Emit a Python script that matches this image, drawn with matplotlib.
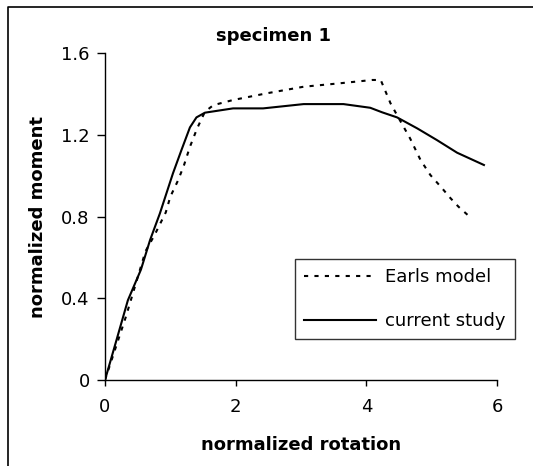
import matplotlib
matplotlib.use("Agg")
import matplotlib.pyplot as plt
from matplotlib.lines import Line2D

# ---- data ----
earls_x = [0, 0.32, 0.62, 0.76, 0.93, 1.0, 1.12, 1.21, 1.30, 1.41, 1.53, 1.66, 1.96,
           2.48, 3.04, 3.57, 4.09, 4.22, 4.37, 4.47, 4.67, 4.83, 4.98, 5.16, 5.29, 5.41, 5.56]
earls_y = [0, 0.31, 0.63, 0.71, 0.82, 0.897, 0.978, 1.052, 1.141, 1.231, 1.313, 1.345, 1.37,
           1.403, 1.435, 1.451, 1.468, 1.468, 1.354, 1.296, 1.182, 1.076, 1.003, 0.938, 0.889, 0.848, 0.805]

study_x = [0, 0.18, 0.35, 0.55, 0.69, 0.84, 1.04, 1.17, 1.30, 1.40, 1.53, 1.96, 2.42,
           3.04, 3.65, 4.06, 4.24, 4.47, 4.78, 5.08, 5.39, 5.80]
study_y = [0, 0.2, 0.39, 0.54, 0.685, 0.815, 1.011, 1.125, 1.236, 1.285, 1.308, 1.329, 1.329,
           1.350, 1.350, 1.332, 1.31, 1.285, 1.231, 1.174, 1.112, 1.052]

x_ticks = [0, 2, 4, 6]
x_ticklabels = ["0", "2", "4", "6"]
y_ticks = [0, 0.4, 0.8, 1.2, 1.6]
y_ticklabels = ["0", "0.4", "0.8", "1.2", "1.6"]

title = "specimen 1"
xlabel = "normalized rotation"
ylabel = "normalized moment"
labels = ["Earls model", "current study"]

# ---- figure ----
W, H = 533, 466
fig = plt.figure(figsize=(W / 100, H / 100), dpi=100)
ax = fig.add_axes([105 / W, 1 - 380 / H, 392 / W, 327 / H])

ax.plot(earls_x, earls_y, color="black", lw=1.5, linestyle=(0, (2.0, 3.0)), label=labels[0])
ax.plot(study_x, study_y, color="black", lw=1.5, linestyle="-", label=labels[1])

ax.set_xlim(0, 6)
ax.set_ylim(0, 1.6)
ax.set_xticks(x_ticks)
ax.set_xticklabels(x_ticklabels)
ax.set_yticks(y_ticks)
ax.set_yticklabels(y_ticklabels)
for s in ["top", "right"]:
    ax.spines[s].set_visible(False)
for s in ["left", "bottom"]:
    ax.spines[s].set_linewidth(1.0)
ax.tick_params(axis="x", direction="out", length=4, width=1.0, pad=9, labelsize=13)
ax.tick_params(axis="y", direction="out", length=6, width=1.0, pad=5, labelsize=13)

ax.set_xlabel(xlabel, fontsize=13, fontweight="bold", labelpad=14)
ax.set_ylabel(ylabel, fontsize=13, fontweight="bold", labelpad=10)
fig.text(273 / W, 1 - 36 / H, title, fontsize=13, fontweight="bold", ha="center", va="center")

leg = ax.legend(loc="upper left", bbox_to_anchor=((295 - 105) / 392, (380 - 259) / 327),
                borderaxespad=0, fontsize=13, frameon=True, fancybox=False,
                edgecolor="black", handlelength=4.0, handletextpad=0.5,
                labelspacing=1.45, borderpad=0.5)
leg.get_frame().set_linewidth(1.0)

# outer frame (cropped at right/bottom)
fig.add_artist(Line2D([8 / W, 8 / W, 1.0], [0.0, 1 - 7 / H, 1 - 7 / H],
                      transform=fig.transFigure, color="black", lw=1.2))

fig.savefig("out.png", dpi=100)
